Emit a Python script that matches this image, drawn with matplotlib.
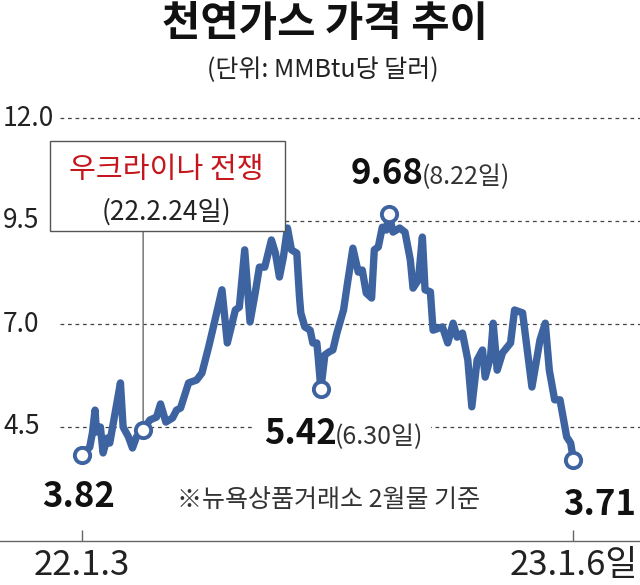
import matplotlib
matplotlib.use("Agg")
import matplotlib.pyplot as plt
from matplotlib.patches import Rectangle
from matplotlib.transforms import Bbox

plt.rcParams["font.family"] = ["Noto Sans CJK KR", "DejaVu Sans"]

# 2022-01-03 기준 경과일 / 가격 (달러/MMBtu, 그림에서 읽은 값)
DAYS = [0, 6, 8, 10, 11, 14, 16, 19, 21, 25,
        29, 31, 35, 38, 41, 46, 51, 56, 59, 63,
        68, 71, 74, 80, 86, 90, 95, 98, 105, 109,
        115, 118, 122, 126, 130, 133, 137, 142, 145, 148,
        151, 154, 157, 161, 163, 164, 167, 171, 173, 176,
        177, 179, 182, 185, 188, 191, 196, 199, 203, 207,
        210, 213, 217, 219, 222, 225, 228, 230, 233, 238,
        242, 246, 248, 252, 255, 257, 261, 263, 270, 274,
        278, 281, 285, 289, 292, 296, 300, 302, 306, 308,
        311, 315, 321, 324, 330, 337, 343, 347, 350, 354,
        358, 363, 366, 368]
PRICES = [3.82, 4.01, 4.35, 4.91, 4.38, 4.50, 3.87, 4.23, 4.11, 4.84,
          5.57, 4.50, 4.26, 3.99, 4.26, 4.43, 4.67, 4.74, 5.06, 4.62,
          4.72, 4.91, 4.96, 5.57, 5.64, 5.81, 6.44, 6.85, 7.83, 6.54,
          7.34, 7.41, 8.80, 7.05, 7.78, 8.38, 8.38, 9.04, 8.72, 8.14,
          8.63, 9.33, 8.80, 8.72, 7.66, 7.27, 6.93, 6.85, 6.54, 6.54,
          6.20, 5.42, 6.25, 6.32, 6.37, 6.78, 7.34, 8.00, 8.84, 8.26,
          8.31, 7.75, 7.63, 8.80, 8.87, 9.35, 9.28, 9.68, 9.23, 9.33,
          9.23, 8.55, 7.87, 8.07, 9.11, 7.83, 7.78, 6.85, 6.93, 6.54,
          7.02, 6.68, 6.78, 6.13, 4.99, 6.13, 6.37, 5.71, 6.20, 7.02,
          5.88, 6.30, 6.54, 7.34, 7.27, 5.47, 6.61, 7.02, 5.88, 5.16,
          5.16, 4.26, 4.11, 3.71]

Y_TICKS = [12.0, 9.5, 7.0, 4.5]
X_TICKS = [0, 368]
X_LABELS = ["22.1.3", "23.1.6일"]
KEY_DAYS = [0, 46, 179, 230, 368]   # 동그라미 표시 지점
WAR_DAY = 46

BLUE = "#3d64a0"
RED = "#c4161c"
GRID = "#444444"

W, H = 640, 585
fig = plt.figure(figsize=(W / 100, H / 100), dpi=100)
ax = fig.add_axes([0, (H - 541) / H, 1, (541 - 100) / H])
ax.set_xlim(-81.7 / 1.336, (W - 81.7) / 1.336)
ax.set_ylim(12 - (541 - 118) / 41.2, 12 + 18 / 41.2)

for s in ["top", "right", "left"]:
    ax.spines[s].set_visible(False)
ax.spines["bottom"].set_color("#666666")
ax.spines["bottom"].set_linewidth(1.0)

# 가로 점선 + y 눈금 글자
for yv in Y_TICKS:
    ax.axhline(yv, xmin=60 / W, xmax=1, color=GRID, lw=0.9, ls=(0, (3, 3)), zorder=1)
    ax.text(3 / W, yv, f"{yv:.1f}", transform=ax.get_yaxis_transform(),
            ha="left", va="center", fontsize=19, color="#222222")
ax.set_yticks([])

ax.set_xticks(X_TICKS)
ax.set_xticklabels(X_LABELS, fontsize=25, color="#222222")
ax.tick_params(axis="x", direction="in", length=8, width=1.0, color="#666666", pad=5)

# 가격 선
ax.plot(DAYS, PRICES, color=BLUE, lw=5.3, solid_joinstyle="round",
        solid_capstyle="round", zorder=3)
key_vals = [PRICES[DAYS.index(d)] for d in KEY_DAYS]
ax.plot(KEY_DAYS, key_vals, ls="none", marker="o", ms=11, mfc="white",
        mec=BLUE, mew=2.8, zorder=4)

# 우크라이나 전쟁 박스
def fpx(x, y):
    return x / W, 1 - y / H

war_val = PRICES[DAYS.index(WAR_DAY)]
war_x = ax.transData.transform((WAR_DAY, war_val))[0]
ax.annotate("", xy=(WAR_DAY, war_val), xycoords="data",
            xytext=(war_x, H - 231), textcoords="figure pixels",
            arrowprops=dict(arrowstyle="-", color="#777777", lw=1.1,
                            shrinkA=0, shrinkB=0), zorder=2)
x0, y0 = fpx(50, 231)
x1, y1 = fpx(285, 141)
fig.add_artist(Rectangle((x0, y0), x1 - x0, y1 - y0, transform=fig.transFigure,
                         fc="white", ec="#555555", lw=1.0, zorder=5))
fig.text(*fpx(166, 170), "우크라이나 전쟁", color=RED, fontsize=21,
         ha="center", va="center", zorder=6)
fig.text(*fpx(166, 212), "(22.2.24일)", color="#222222", fontsize=19,
         ha="center", va="center", zorder=6)

# 값 라벨
bold = dict(fontsize=25, fontweight="bold", color="#111111", va="baseline",
            textcoords="offset pixels", zorder=6)
norm = dict(fontsize=18, color="#333333", va="baseline",
            textcoords="offset pixels", zorder=6)
ax.annotate(f"{PRICES[0]:.2f}", (DAYS[0], PRICES[0]), xytext=(-3, -52), ha="center", **bold)
ax.annotate(f"{PRICES[-1]:.2f}", (DAYS[-1], PRICES[-1]), xytext=(26, -55), ha="center", **bold)

i_low = DAYS.index(179)
t_low1 = ax.annotate(f"{PRICES[i_low]:.2f}", (179, PRICES[i_low]), xytext=(16, -55),
                     ha="right", **bold)
t_low2 = ax.annotate("(6.30일)", (179, PRICES[i_low]), xytext=(14, -55), ha="left", **norm)

i_high = DAYS.index(230)
ax.annotate(f"{PRICES[i_high]:.2f}", (230, PRICES[i_high]), xytext=(35, 30), ha="right", **bold)
ax.annotate("(8.22일)", (230, PRICES[i_high]), xytext=(33, 30), ha="left", **norm)

fig.text(*fpx(329, 500), "※뉴욕상품거래소 2월물 기준", fontsize=18, color="#333333",
         ha="center", va="center")

# 제목
fig.text(*fpx(325, 24), "천연가스 가격 추이", fontsize=30, fontweight="bold",
         ha="center", va="center", color="#111111")
fig.text(*fpx(323, 70), "(단위: MMBtu당 달러)", fontsize=18,
         ha="center", va="center", color="#222222")

# 5.42 라벨 뒤 흰 배경 (점선 끊기) - axes 안에 넣어 글자 아래에 그림
fig.canvas.draw()
r = fig.canvas.get_renderer()
bb = Bbox.union([t_low1.get_window_extent(r), t_low2.get_window_extent(r)])
ax.add_patch(Rectangle((bb.x0 - 10, bb.y0), bb.width + 18, bb.height,
                       transform=None, fc="white", ec="none", zorder=5,
                       clip_on=False))

fig.savefig("out.png", dpi=100)
